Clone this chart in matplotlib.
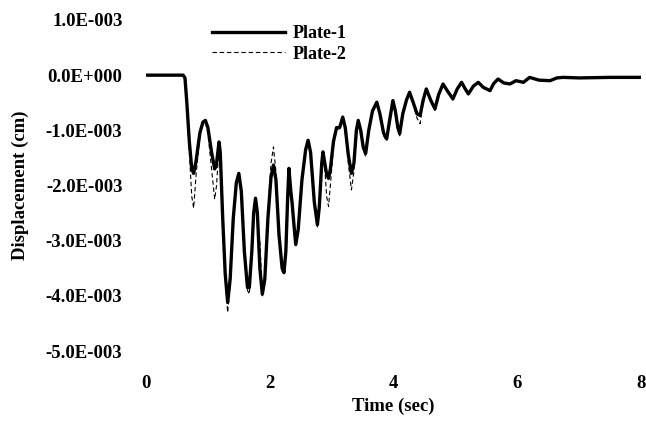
import numpy as np
import matplotlib
matplotlib.use('Agg')
import matplotlib.pyplot as plt
from matplotlib.ticker import FuncFormatter

# time (sec) and displacement (x 1e-3 cm)
t = [0.00, 0.60, 0.63, 0.66, 0.70, 0.74, 0.77, 0.81, 0.87, 0.92,
     0.96, 1.00, 1.06, 1.11, 1.14, 1.18, 1.20, 1.24, 1.28, 1.32,
     1.36, 1.41, 1.46, 1.50, 1.54, 1.59, 1.64, 1.67, 1.71, 1.74,
     1.77, 1.80, 1.84, 1.88, 1.92, 1.97, 2.02, 2.06, 2.10, 2.15,
     2.20, 2.23, 2.26, 2.29, 2.31, 2.34, 2.36, 2.39, 2.42, 2.46,
     2.52, 2.58, 2.62, 2.66, 2.72, 2.77, 2.80, 2.84, 2.86, 2.89,
     2.92, 2.95, 2.98, 3.03, 3.08, 3.13, 3.18, 3.22, 3.27, 3.32,
     3.36, 3.40, 3.43, 3.47, 3.51, 3.55, 3.60, 3.66, 3.73, 3.78,
     3.84, 3.89, 3.94, 3.99, 4.03, 4.07, 4.10, 4.15, 4.21, 4.26,
     4.32, 4.38, 4.43, 4.48, 4.53, 4.60, 4.67, 4.73, 4.80, 4.88,
     4.96, 5.03, 5.10, 5.16, 5.21, 5.29, 5.37, 5.45, 5.56, 5.62,
     5.69, 5.78, 5.88, 5.98, 6.10, 6.20, 6.35, 6.53, 6.64, 6.74,
     7.00, 7.50, 8.00]

plate1 = [0.00, 0.00, -0.05, -0.50, -1.20, -1.70, -1.78, -1.55, -1.05, -0.85,
          -0.82, -0.95, -1.40, -1.70, -1.60, -1.21, -1.40, -2.60, -3.60, -4.12,
          -3.70, -2.60, -1.95, -1.78, -2.10, -3.20, -3.85, -3.85, -3.20, -2.50,
          -2.23, -2.50, -3.50, -3.97, -3.70, -2.60, -1.85, -1.63, -1.90, -2.90,
          -3.50, -3.58, -3.20, -2.20, -1.69, -2.10, -2.30, -2.70, -3.07, -2.80,
          -1.90, -1.35, -1.18, -1.40, -2.30, -2.71, -2.40, -1.60, -1.39, -1.60,
          -1.80, -1.87, -1.70, -1.20, -0.95, -0.95, -0.76, -0.95, -1.45, -1.78,
          -1.60, -1.00, -0.82, -1.00, -1.30, -1.42, -1.00, -0.65, -0.49, -0.70,
          -1.05, -1.15, -0.80, -0.46, -0.65, -0.95, -1.06, -0.70, -0.45, -0.31,
          -0.50, -0.70, -0.73, -0.45, -0.25, -0.45, -0.61, -0.35, -0.16, -0.30,
          -0.43, -0.25, -0.13, -0.25, -0.34, -0.20, -0.13, -0.22, -0.28, -0.15,
          -0.07, -0.14, -0.16, -0.10, -0.13, -0.04, -0.09, -0.10, -0.05, -0.04,
          -0.05, -0.04, -0.04]

plate2 = [0.00, 0.00, -0.05, -0.55, -1.40, -2.20, -2.41, -1.80, -1.10, -0.88,
          -0.85, -1.05, -1.70, -2.25, -2.00, -1.30, -1.45, -2.70, -3.70, -4.30,
          -3.80, -2.65, -1.98, -1.80, -2.15, -3.25, -3.90, -3.97, -3.25, -2.55,
          -2.30, -2.60, -3.00, -4.00, -3.75, -2.55, -1.60, -1.30, -1.75, -2.90,
          -3.55, -3.60, -3.20, -2.15, -1.65, -2.10, -2.40, -2.75, -3.10, -2.85,
          -1.95, -1.38, -1.20, -1.45, -2.35, -2.75, -2.45, -1.65, -1.40, -1.70,
          -2.20, -2.38, -2.00, -1.30, -0.98, -0.97, -0.78, -1.00, -1.60, -2.08,
          -1.75, -1.05, -0.84, -1.02, -1.35, -1.48, -1.05, -0.67, -0.50, -0.72,
          -1.10, -1.20, -0.82, -0.47, -0.67, -0.98, -1.10, -0.72, -0.46, -0.32,
          -0.52, -0.78, -0.88, -0.50, -0.26, -0.47, -0.64, -0.36, -0.17, -0.31,
          -0.45, -0.26, -0.13, -0.26, -0.35, -0.21, -0.13, -0.23, -0.29, -0.15,
          -0.07, -0.14, -0.16, -0.10, -0.13, -0.04, -0.09, -0.10, -0.05, -0.04,
          -0.05, -0.04, -0.04]

xticks = [0, 2, 4, 6, 8]
yticks = [1, 0, -1, -2, -3, -4, -5]


def sci_label(v, pos):
    # labels like 1.0E-003 / 0.0E+000
    v = v * 1e-3
    if v == 0:
        return '0.0E+000'
    e = int(np.floor(np.log10(abs(v))))
    m = v / 10 ** e
    sign = '-' if e < 0 else '+'
    return '%.1fE%s%03d' % (m, sign, abs(e))


plt.rcParams['font.family'] = 'Liberation Serif'
plt.rcParams['font.weight'] = 'bold'
fs = 13.5

fig = plt.figure(figsize=(6.46, 4.21), dpi=100)
ax = fig.add_axes([146/646, 1 - 351/421, 495/646, 331/421])

ax.plot(t, plate2, color='black', lw=0.8, ls=(0, (4, 2.5)), label='Plate-2', zorder=3)
ax.plot(t, plate1, color='black', lw=2.4, label='Plate-1', zorder=2)

ax.set_xlim(0, 8)
ax.set_ylim(-5, 1)
ax.set_xticks(xticks)
ax.set_yticks(yticks)
ax.yaxis.set_major_formatter(FuncFormatter(sci_label))
ax.tick_params(axis='both', length=0, labelsize=fs)
ax.tick_params(axis='y', pad=17)
ax.tick_params(axis='x', pad=17.5)
for s in ax.spines.values():
    s.set_visible(False)

ax.set_xlabel('Time (sec)', fontsize=fs, fontweight='bold')
ax.xaxis.set_label_coords(0.5, -0.14)
ax.set_ylabel('Displacement (cm)', fontsize=fs, fontweight='bold')
ax.yaxis.set_label_coords(-0.236, 0.5)

h, l = ax.get_legend_handles_labels()
ax.legend([h[1], h[0]], [l[1], l[0]], loc='upper left',
          bbox_to_anchor=(212/646, 1 - 25/421), bbox_transform=fig.transFigure,
          frameon=False, borderpad=0, borderaxespad=0, handlelength=4.05,
          handletextpad=0.4, labelspacing=0.2, prop={'size': 13, 'weight': 'bold'})

plt.savefig('out.png', dpi=100)
